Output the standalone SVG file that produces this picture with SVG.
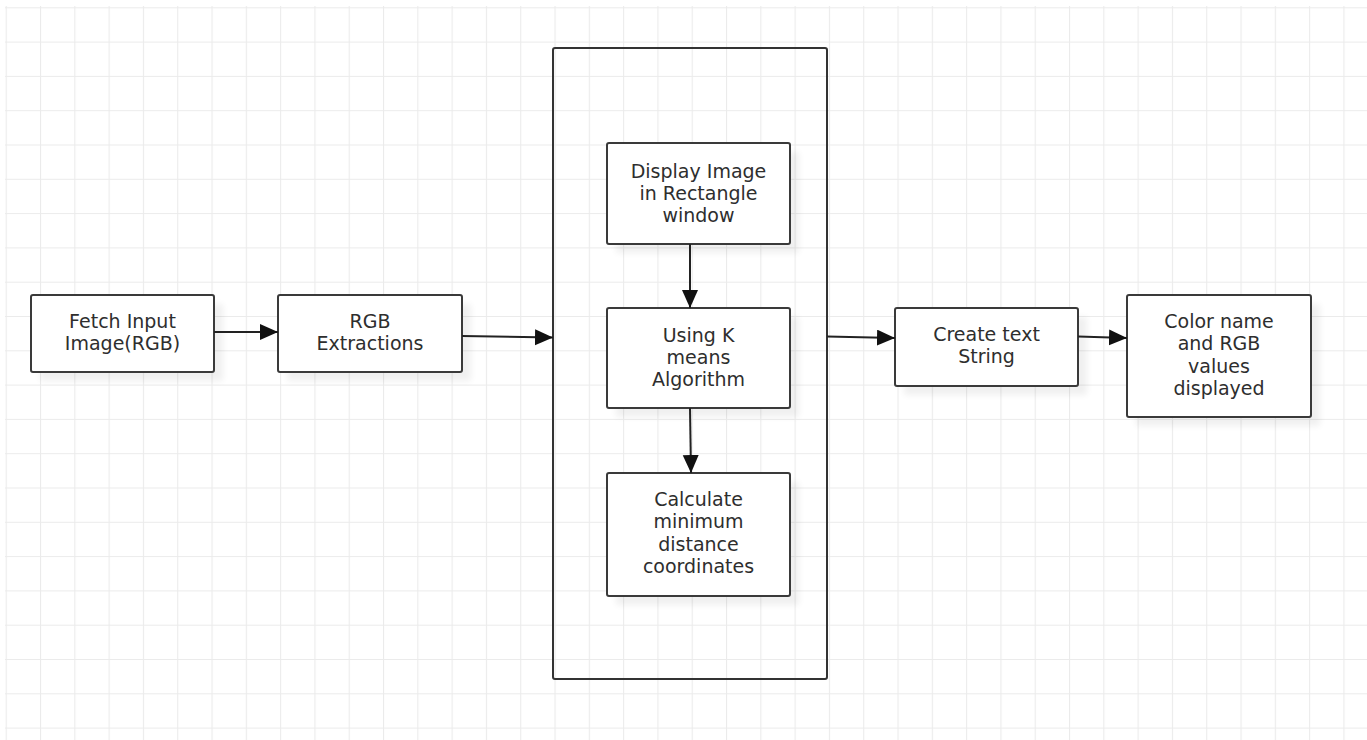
<svg xmlns="http://www.w3.org/2000/svg" width="1367" height="740" viewBox="0 0 1367 740">
<style>
.box{fill:#fff;stroke:#3a3a3a;stroke-width:2}
.shadow{fill:#000;opacity:0.06}
.lbl{font-family:"DejaVu Sans","Open Sans",sans-serif;font-size:19px;fill:#2e2e2e;text-anchor:middle}
.conn{fill:none;stroke:#222;stroke-width:2}
</style>
<defs>
<pattern id="grid" patternUnits="userSpaceOnUse" x="5.7" y="7.3" width="34.3" height="34.3">
<path d="M0 0H34.3M0 0V34.3" fill="none" stroke="#ebebeb" stroke-width="2.2"/>
</pattern>
<filter id="blur" x="-20%" y="-20%" width="140%" height="140%"><feGaussianBlur stdDeviation="3"/></filter>
<marker id="arr" markerUnits="userSpaceOnUse" markerWidth="20" markerHeight="20" refX="18" refY="8" orient="auto">
<path d="M0 0L18 8L0 16Z" fill="#111"/>
</marker>
</defs>
<rect x="0" y="0" width="1367" height="740" fill="#fff"/>
<rect x="5" y="6" width="1362" height="734" fill="url(#grid)"/>

<g id="container">
<rect x="553" y="48" width="274" height="631" fill="none" stroke="#333" stroke-width="2" rx="2"/>
</g>

<g id="n-fetch">
<rect class="shadow" x="40" y="304" width="183" height="77" filter="url(#blur)"/>
<rect class="box" x="31" y="295" width="183" height="77" rx="2"/>
<text class="lbl" x="122.5" y="328">Fetch Input</text>
<text class="lbl" x="122.5" y="350">Image(RGB)</text>
</g>

<g id="n-rgb">
<rect class="shadow" x="287" y="304" width="184" height="77" filter="url(#blur)"/>
<rect class="box" x="278" y="295" width="184" height="77" rx="2"/>
<text class="lbl" x="370" y="328">RGB</text>
<text class="lbl" x="370" y="350">Extractions</text>
</g>

<g id="n-display">
<rect class="shadow" x="616" y="152" width="183" height="101" filter="url(#blur)"/>
<rect class="box" x="607" y="143" width="183" height="101" rx="2"/>
<text class="lbl" x="698.5" y="178">Display Image</text>
<text class="lbl" x="698.5" y="200">in Rectangle</text>
<text class="lbl" x="698.5" y="222">window</text>
</g>

<g id="n-kmeans">
<rect class="shadow" x="616" y="317" width="183" height="100" filter="url(#blur)"/>
<rect class="box" x="607" y="308" width="183" height="100" rx="2"/>
<text class="lbl" x="698.5" y="342">Using K</text>
<text class="lbl" x="698.5" y="364">means</text>
<text class="lbl" x="698.5" y="386">Algorithm</text>
</g>

<g id="n-calc">
<rect class="shadow" x="616" y="482" width="183" height="123" filter="url(#blur)"/>
<rect class="box" x="607" y="473" width="183" height="123" rx="2"/>
<text class="lbl" x="698.5" y="506">Calculate</text>
<text class="lbl" x="698.5" y="528">minimum</text>
<text class="lbl" x="698.5" y="551">distance</text>
<text class="lbl" x="698.5" y="573">coordinates</text>
</g>

<g id="n-create">
<rect class="shadow" x="904" y="317" width="183" height="78" filter="url(#blur)"/>
<rect class="box" x="895" y="308" width="183" height="78" rx="2"/>
<text class="lbl" x="986.5" y="341">Create text</text>
<text class="lbl" x="986.5" y="363">String</text>
</g>

<g id="n-color">
<rect class="shadow" x="1136" y="304" width="184" height="122" filter="url(#blur)"/>
<rect class="box" x="1127" y="295" width="184" height="122" rx="2"/>
<text class="lbl" x="1219" y="328">Color name</text>
<text class="lbl" x="1219" y="350">and RGB</text>
<text class="lbl" x="1219" y="373">values</text>
<text class="lbl" x="1219" y="395">displayed</text>
</g>

<g id="connectors">
<path class="conn" d="M214 332L278 332" marker-end="url(#arr)"/>
<path class="conn" d="M462 336L553 337.5" marker-end="url(#arr)"/>
<path class="conn" d="M690 244L690 308" marker-end="url(#arr)"/>
<path class="conn" d="M690 408L691 473" marker-end="url(#arr)"/>
<path class="conn" d="M827 336.5L895 338" marker-end="url(#arr)"/>
<path class="conn" d="M1078 336.5L1127 338" marker-end="url(#arr)"/>
</g>
</svg>
